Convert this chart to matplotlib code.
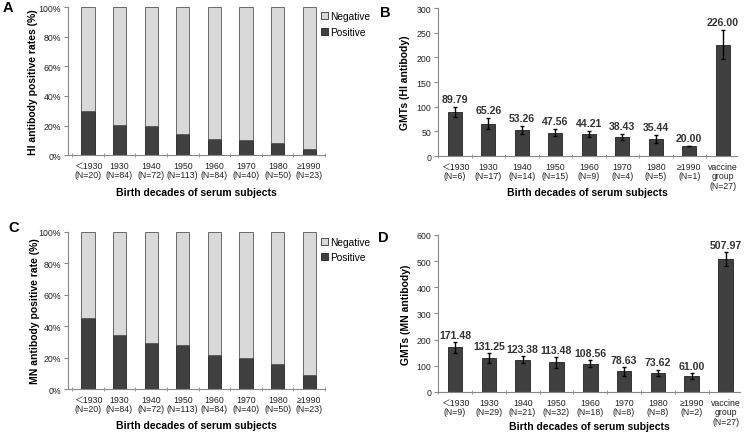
import matplotlib
matplotlib.use("Agg")
import matplotlib.pyplot as plt
import numpy as np
from matplotlib.patches import Patch

plt.rcParams['font.family'] = ['Liberation Sans', 'Noto Sans CJK SC', 'DejaVu Sans']

decades = ["＜1930", "1930", "1940", "1950", "1960", "1970", "1980", "≥1990"]
n_ac = [20, 84, 72, 113, 84, 40, 50, 23]
hi_pos = [30.0, 20.2, 19.4, 14.0, 10.7, 10.0, 8.0, 4.3]
mn_pos = [45.0, 34.5, 29.2, 28.3, 21.4, 20.0, 16.0, 8.7]

gmt_cats = decades + ["vaccine\ngroup"]
n_b = [6, 17, 14, 15, 9, 4, 5, 1, 27]
hi_gmt = [89.79, 65.26, 53.26, 47.56, 44.21, 38.43, 35.44, 20.00, 226.00]
hi_err = [10, 11, 8, 7, 6.5, 6, 8, 0, 30]
n_d = [9, 29, 21, 32, 18, 8, 8, 2, 27]
mn_gmt = [171.48, 131.25, 123.38, 113.48, 108.56, 78.63, 73.62, 61.00, 507.97]
mn_err = [21, 19, 14, 20, 15, 16, 12, 10, 27]

dark = "#404040"
light = "#d9d9d9"
spine_c = "#888888"

fig = plt.figure(figsize=(7.45, 4.35), dpi=100)

def style(ax, ncat):
    for s in ["top", "right"]:
        ax.spines[s].set_visible(False)
    for s in ["left", "bottom"]:
        ax.spines[s].set_color(spine_c)
        ax.spines[s].set_linewidth(0.8)
    ax.tick_params(axis="y", labelsize=6.3, length=3, color=spine_c, width=0.8, pad=2,
                   labelcolor="#222222")
    ax.tick_params(axis="x", labelsize=6.3, length=0, pad=4, labelcolor="#222222")
    ax.set_xticks(np.arange(-0.5, ncat, 1), minor=True)
    ax.tick_params(axis="x", which="minor", length=2.5, color=spine_c, direction="inout")
    for t in ax.get_xticklabels():
        t.set_linespacing(1.1)

def stacked(rect, pos, ns, ylabel, xlab_y, ylab_x):
    ax = fig.add_axes(rect)
    x = np.arange(len(pos))
    neg = [100 - p for p in pos]
    ax.bar(x, pos, width=0.42, color=dark, edgecolor="#222222", linewidth=0.6)
    ax.bar(x, neg, bottom=pos, width=0.42, color=light, edgecolor="#555555", linewidth=0.6)
    ax.set_yticks([0, 20, 40, 60, 80, 100])
    ax.set_yticklabels([f"{v}%" for v in [0, 20, 40, 60, 80, 100]])
    ax.set_xticks(x)
    ax.set_xticklabels([f"{d}\n(N={n})" for d, n in zip(decades, ns)])
    style(ax, len(pos))
    ax.set_xlim(-0.63, 7.5)
    ax.set_ylim(0, 100)
    ax.set_ylabel(ylabel, fontsize=7.5, fontweight="bold")
    ax.set_xlabel("Birth decades of serum subjects", fontsize=7.5, fontweight="bold")
    ax.xaxis.set_label_coords(0.5, xlab_y)
    ax.yaxis.set_label_coords(ylab_x, 0.5)
    handles = [Patch(facecolor=light, edgecolor="#333333", linewidth=0.6, label="Negative"),
               Patch(facecolor=dark, edgecolor="#222222", linewidth=0.6, label="Positive")]
    ax.legend(handles=handles, loc="upper left", bbox_to_anchor=(0.985, 0.97), frameon=False,
              fontsize=7.3, handlelength=0.7, handleheight=0.7, handletextpad=0.2,
              labelspacing=0.55, borderaxespad=0, borderpad=0)
    return ax

def gmt(rect, vals, errs, ns, ymax, ystep, ylabel, off, xlab_y, ylab_x):
    ax = fig.add_axes(rect)
    x = np.arange(len(vals))
    ax.bar(x, vals, width=0.43, color=dark, edgecolor="#222222", linewidth=0.6)
    ax.errorbar(x, vals, yerr=errs, fmt="none",
                ecolor="black", elinewidth=1.0, capsize=1.5, capthick=1.0)
    for xi, v, e in zip(x, vals, errs):
        ax.text(xi, v + e + off, f"{v:.2f}", ha="center", va="bottom", fontsize=7.6,
                fontweight="bold", color="#333333")
    ax.set_yticks(np.arange(0, ymax + 1, ystep))
    ax.set_xticks(x)
    ax.set_xticklabels([f"{d}\n(N={n})" for d, n in zip(gmt_cats, ns)], va="top")
    style(ax, len(vals))
    ax.set_xlim(-0.5, 8.42)
    ax.set_ylim(0, ymax)
    ax.set_ylabel(ylabel, fontsize=7.5, fontweight="bold")
    ax.set_xlabel("Birth decades of serum subjects", fontsize=7.5, fontweight="bold")
    ax.xaxis.set_label_coords(0.5, xlab_y)
    ax.yaxis.set_label_coords(ylab_x, 0.5)
    return ax

stacked([0.0913, 0.641, 0.345, 0.3406], hi_pos, n_ac, "HI antibody positive rates (%)", -0.213, -0.117)
stacked([0.0913, 0.1034, 0.345, 0.361], mn_pos, n_ac, "MN antibody positive rate (%)", -0.195, -0.109)
gmt([0.588, 0.639, 0.401, 0.340], hi_gmt, hi_err, n_b, 300, 50, "GMTs (HI antibody)", 6, -0.206, -0.093)
gmt([0.588, 0.0966, 0.405, 0.3609], mn_gmt, mn_err, n_d, 600, 100, "GMTs (MN antibody)", 8, -0.182, -0.089)

for letter, fx, fy in [("A", 0.011, 0.982), ("B", 0.517, 0.970), ("C", 0.018, 0.476), ("D", 0.514, 0.453)]:
    fig.text(fx, fy, letter, fontsize=10.5, fontweight="bold", ha="center", va="center")

fig.savefig("out.png", dpi=100)
